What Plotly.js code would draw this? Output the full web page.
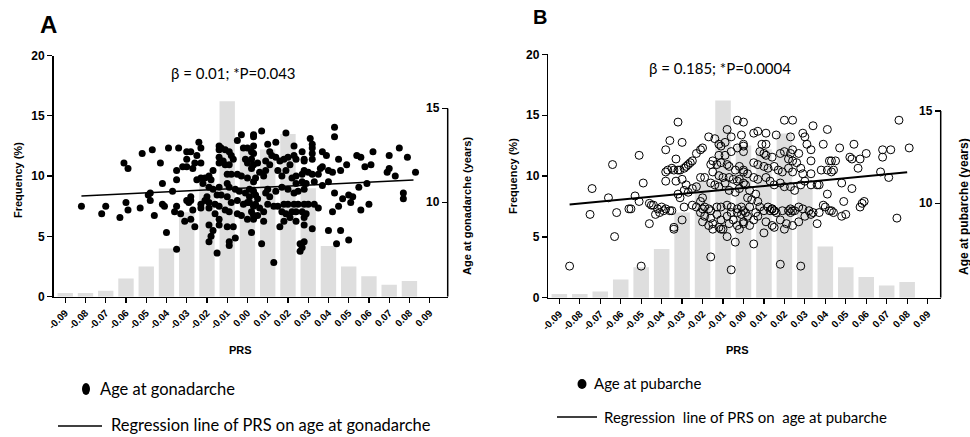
<!DOCTYPE html>
<html><head><meta charset="utf-8">
<script src="https://cdn.plot.ly/plotly-3.0.1.min.js"></script>
<style>html,body{margin:0;padding:0;background:#fff}#chart{width:970px;height:437px}</style>
</head><body><div id="chart"></div>
<script>
// ---------------- DATA ----------------
const binCenters = [-0.09,-0.08,-0.07,-0.06,-0.05,-0.04,-0.03,-0.02,-0.01,0.00,0.01,0.02,0.03,0.04,0.05,0.06,0.07,0.08];
const frequency  = [0.3,0.3,0.5,1.5,2.5,4.0,7.0,9.5,16.2,12.5,12.2,13.5,9.0,4.2,2.5,1.7,1.0,1.3];
const tickVals   = [-0.09,-0.08,-0.07,-0.06,-0.05,-0.04,-0.03,-0.02,-0.01,0,0.01,0.02,0.03,0.04,0.05,0.06,0.07,0.08,0.09];
const tickLabels = ["-0.09","-0.08","-0.07","-0.06","-0.05","-0.04","-0.03","-0.02","-0.01","0.00","0.01","0.02","0.03","0.04","0.05","0.06","0.07","0.08","0.09"];
const freqTicks  = [0,5,10,15,20];
const ageTicks   = [10,15];

// Regression line end points [PRS, age]
const regLineA = [[-0.082,10.34],[0.082,11.19]];
const regLineB = [[-0.085,9.93],[0.080,11.68]];

// Panel A: PRS vs age at gonadarche [PRS, age]
const gonadarche = [
[-0.082,9.8],[-0.070,9.8],[-0.072,9.4],[-0.063,9.2],[-0.061,12.1],[-0.059,11.8],[-0.060,10.0],[-0.059,9.6],
[-0.053,9.7],[-0.052,12.6],[-0.047,12.8],[-0.043,12.1],[-0.042,11.0],[-0.049,10.4],[-0.048,10.5],[-0.048,10.1],
[-0.046,9.3],[-0.042,9.9],[-0.041,9.8],
[-0.039,12.9],[-0.034,12.9],[-0.024,13.2],[-0.023,12.9],[-0.030,12.7],[-0.028,12.7],[-0.025,12.5],[-0.030,12.3],
[-0.026,12.1],[-0.023,12.1],[-0.032,11.9],[-0.030,11.9],[-0.027,11.8],[-0.035,11.7],[-0.035,11.2],[-0.037,10.6],
[-0.035,9.8],[-0.036,9.5],[-0.033,9.4],[-0.031,9.0],[-0.028,9.1],[-0.027,9.6],[-0.030,10.1],[-0.028,10.1],
[-0.029,10.0],[-0.028,10.3],[-0.026,8.7],[-0.040,8.4],[-0.035,7.5],[-0.025,11.2],[-0.023,11.3],[-0.021,11.3],
[-0.019,11.4],[-0.017,11.7],[-0.018,11.2],[-0.022,11.0],[-0.019,10.8],[-0.017,10.7],[-0.015,10.4],[-0.014,10.8],
[-0.014,13.0],[-0.014,12.8],[-0.013,12.9],[-0.011,12.8],[-0.009,12.7],[-0.008,12.5],[-0.014,12.4],[-0.012,12.2],
[-0.014,12.1],[-0.011,12.0],[-0.009,12.0],[-0.007,12.3],[-0.005,13.3],[-0.003,13.6],[-0.002,12.9],[0.000,12.9],
[0.003,13.6],[0.002,12.7],[-0.001,12.3],[0.000,12.1],[0.003,12.0],[-0.010,11.5],[-0.008,11.5],[-0.005,11.5],
[-0.003,11.4],[0.000,11.3],[0.003,11.1],[-0.010,11.0],[-0.009,10.8],[-0.006,10.7],[-0.004,10.6],[-0.001,10.5],
[0.001,10.7],[-0.013,10.4],[-0.010,10.3],[-0.008,10.0],[-0.005,10.1],[-0.002,9.9],[0.000,10.0],[0.003,9.8],
[-0.019,10.0],[-0.016,9.9],[-0.014,9.8],[-0.011,9.6],[-0.009,9.5],[-0.005,9.4],[-0.003,9.3],[0.000,9.1],
[0.003,9.3],[-0.019,9.7],[-0.016,9.4],[-0.014,9.1],[-0.019,8.8],[-0.017,8.5],[-0.014,8.8],[-0.010,8.7],
[-0.007,8.7],[-0.018,8.2],[-0.019,7.9],[-0.009,7.9],[-0.009,7.7],[-0.006,8.1],[0.002,8.4],[-0.015,7.3],
[-0.023,9.9],[-0.023,9.7],[-0.021,10.1],[-0.020,10.3],[0.001,10.3],[0.004,10.4],
[0.003,13.5],[0.007,13.8],[0.003,13.0],[0.003,12.6],[0.002,12.3],[0.005,12.1],[0.002,11.8],[0.006,11.6],
[0.008,11.4],[0.004,11.3],[0.010,13.1],[0.014,13.2],[0.011,12.7],[0.012,12.5],[0.009,12.2],[0.009,11.7],
[0.011,12.0],[0.014,12.4],[0.016,12.2],[0.018,12.3],[0.020,12.4],[0.021,12.0],[0.019,11.7],[0.015,11.7],
[0.017,11.4],[0.019,13.7],[0.023,13.0],[0.023,12.5],[0.024,12.3],[0.027,12.7],[0.028,12.3],[0.031,13.4],
[0.032,13.1],[0.032,12.9],[0.032,12.6],[0.032,12.3],[0.028,12.2],[0.028,11.7],[0.030,11.6],[0.032,11.5],
[0.027,11.5],[0.024,11.4],[0.022,11.3],[0.037,12.7],[0.039,12.5],[0.045,12.3],[0.043,14.0],[0.043,13.5],
[0.036,11.8],[0.037,11.9],[0.040,11.7],[0.042,11.6],[0.046,11.7],[0.035,11.5],[0.033,11.1],[0.029,11.0],
[0.027,11.1],[0.024,11.0],[0.028,10.7],[0.025,10.6],[0.023,10.5],[0.020,10.7],[0.017,10.8],[0.014,10.6],
[0.010,10.7],[0.009,10.5],[0.011,10.3],[0.005,10.2],[0.003,10.6],[0.001,10.0],[0.004,9.9],[0.006,9.7],
[0.008,9.5],[0.002,9.5],[0.003,9.1],[0.008,9.0],[0.005,9.3],[0.010,9.9],[0.013,9.8],[0.015,9.8],
[0.018,9.9],[0.020,9.9],[0.023,9.9],[0.025,9.9],[0.028,9.9],[0.030,9.9],[0.033,9.9],[0.035,9.7],
[0.017,9.5],[0.019,9.4],[0.022,9.5],[0.024,9.5],[0.027,9.5],[0.029,9.4],[0.021,9.2],[0.024,9.0],
[0.028,9.2],[0.028,8.8],[0.018,9.0],[0.016,8.7],[0.007,7.8],[0.013,6.8],[0.026,7.8],[0.027,7.6],
[0.026,7.4],[0.028,7.9],[0.032,8.6],[0.040,8.5],[0.042,9.5],[0.043,10.5],[0.045,9.8],[0.046,8.5],
[0.044,7.8],[0.047,10.2],[0.037,10.9],[0.040,11.1],
[0.049,12.0],[0.054,12.5],[0.056,12.4],[0.062,12.7],[0.061,12.0],[0.058,11.9],[0.070,12.5],[0.075,12.9],
[0.079,12.4],[0.070,11.8],[0.069,11.6],[0.073,11.4],[0.083,11.6],[0.059,11.0],[0.055,10.8],[0.050,10.4],
[0.052,10.3],[0.051,10.0],[0.060,9.9],[0.056,9.6],[0.050,8.0],[0.077,10.5],[0.077,10.2]
];

// Panel B: PRS vs age at pubarche [PRS, age]
const pubarche = [
[-0.085,6.6],[-0.064,12.1],[-0.051,12.6],[-0.049,11.1],[-0.074,10.8],[-0.066,10.3],[-0.053,10.4],[-0.051,10.1],
[-0.075,9.4],[-0.062,9.5],[-0.056,9.7],[-0.055,9.7],[-0.063,8.2],[-0.050,6.6],[-0.046,10.0],[-0.045,9.9],[-0.046,8.9],
[-0.032,14.4],[-0.036,13.4],[-0.030,13.3],[-0.038,12.9],[-0.033,12.4],[-0.038,11.7],[-0.037,11.8],[-0.038,11.2],
[-0.035,11.9],[-0.034,11.8],[-0.032,11.8],[-0.031,11.8],[-0.029,11.9],[-0.028,12.0],[-0.027,12.1],[-0.026,12.2],
[-0.025,12.3],[-0.023,12.7],[-0.021,12.9],[-0.020,13.0],[-0.017,13.6],[-0.014,13.5],[-0.012,13.2],[-0.011,13.1],
[-0.009,13.3],[-0.008,14.0],[-0.006,13.6],[-0.003,14.5],[-0.001,13.7],[0.000,13.2],[-0.003,13.0],[-0.006,12.8],
[-0.009,12.6],[-0.012,12.6],[-0.015,12.3],[-0.016,12.1],[-0.013,12.1],[-0.011,12.2],[-0.008,12.1],[-0.007,12.0],
[-0.004,11.8],[-0.002,12.0],[0.000,11.7],[-0.015,11.7],[-0.012,11.5],[-0.010,11.4],[-0.007,11.4],[-0.005,11.3],
[-0.003,11.2],[0.000,11.1],[-0.021,11.4],[-0.019,11.4],[-0.016,11.1],[-0.014,11.0],[-0.012,10.9],[-0.009,11.1],
[-0.007,10.7],[-0.004,10.6],[-0.002,10.8],[-0.033,11.2],[-0.030,11.3],[-0.028,11.0],[-0.025,10.8],[-0.023,10.9],
[-0.029,10.7],[-0.032,10.5],[-0.031,10.3],[-0.027,10.6],[-0.044,9.9],[-0.042,9.7],[-0.040,9.8],[-0.038,9.7],
[-0.036,9.6],[-0.035,9.6],[-0.043,9.4],[-0.041,9.5],[-0.039,9.6],[-0.034,8.7],[-0.034,8.6],[-0.030,9.1],
[-0.029,9.8],[-0.025,9.9],[-0.023,9.8],[-0.021,10.1],[-0.020,10.3],[-0.019,9.8],[-0.017,9.7],[-0.016,9.6],
[-0.013,9.8],[-0.011,9.8],[-0.008,9.9],[-0.006,9.8],[-0.003,9.7],[-0.001,9.8],[-0.021,9.5],[-0.019,9.3],
[-0.016,9.2],[-0.013,9.4],[-0.011,9.1],[-0.008,9.3],[-0.006,9.5],[-0.003,9.5],[-0.001,9.4],[-0.020,9.0],
[-0.017,8.8],[-0.015,8.9],[-0.012,8.7],[-0.010,8.6],[-0.007,8.9],[-0.005,9.1],[-0.003,8.8],[0.000,8.9],
[-0.020,9.7],[-0.015,8.6],[-0.011,8.6],[-0.008,8.2],[-0.004,7.9],[-0.016,7.1],[-0.006,6.4],
[0.000,14.4],[0.020,14.5],[0.024,14.5],[0.034,14.2],[0.041,14.0],[0.005,13.8],[0.007,13.9],[0.011,13.8],
[0.016,13.7],[0.023,13.6],[0.029,13.8],[0.030,13.6],[0.031,13.2],[0.033,12.9],[0.039,13.2],[0.033,12.3],
[0.042,12.3],[0.045,12.3],[0.000,13.1],[0.000,12.8],[0.009,13.2],[0.011,13.2],[0.008,12.8],[0.010,12.7],
[0.011,12.6],[0.014,12.5],[0.018,12.7],[0.020,12.8],[0.023,12.7],[0.024,12.9],[0.027,12.7],[0.022,12.4],
[0.024,12.3],[0.026,12.2],[0.028,11.9],[0.029,11.6],[0.033,11.6],[0.038,11.8],[0.041,11.8],[0.043,11.7],
[0.005,12.2],[0.007,12.1],[0.010,12.0],[0.012,11.9],[0.015,12.0],[0.017,11.8],[0.019,11.7],[0.022,11.9],
[0.024,11.7],[0.000,11.8],[0.002,11.6],[0.005,11.4],[0.007,11.3],[0.011,11.4],[0.013,11.2],[0.015,11.0],
[0.018,11.1],[0.020,10.9],[0.023,10.9],[0.025,10.7],[0.028,11.0],[0.030,11.2],[0.033,11.0],[0.036,11.0],
[0.037,11.0],[0.041,10.5],[-0.002,11.3],[0.001,11.0],[0.003,10.7],[0.006,10.5],[0.002,10.3],[0.004,10.2],
[0.007,10.1],[0.008,9.8],[0.010,9.6],[0.012,9.8],[0.014,9.7],[0.015,9.6],[0.016,9.5],[0.019,9.6],
[0.023,9.7],[0.025,9.6],[0.027,9.8],[0.029,9.7],[0.032,9.6],[0.034,9.5],[0.037,9.5],[0.039,9.9],
[0.040,9.8],[0.042,9.6],[0.000,9.6],[0.001,9.5],[0.002,9.3],[0.005,9.1],[0.000,9.0],[0.003,8.8],
[-0.002,8.6],[0.007,9.3],[0.011,9.0],[0.014,8.8],[0.018,9.1],[0.021,8.9],[0.024,8.8],[0.027,9.0],
[0.030,9.3],[0.033,9.4],[0.036,8.9],[0.020,8.6],[0.015,8.7],[0.010,8.4],[0.005,7.8],[0.018,6.7],
[0.028,6.6],[0.003,9.8],[0.006,9.5],[0.013,9.6],[0.014,9.7],[0.015,9.6],[0.024,9.6],[0.023,9.5],[0.022,9.6],
[0.076,14.5],[0.047,13.0],[0.054,13.2],[0.052,12.5],[0.053,12.4],[0.057,12.4],[0.060,12.7],[0.056,11.9],
[0.068,12.9],[0.072,12.9],[0.068,12.5],[0.081,13.0],[0.067,11.7],[0.071,11.4],[0.048,11.1],[0.053,10.8],
[0.043,12.3],[0.044,11.8],[0.049,10.1],[0.059,10.1],[0.058,10.0],[0.057,9.8],[0.048,9.3],[0.050,9.4],
[0.043,9.6],[0.044,9.5],[0.075,9.2]
];

// ---------------- LAYOUT HELPERS ----------------
const W = 970, H = 437;
const px = x => x / W;
const py = y => 1 - y / H;
const BLACK = '#000';
const ARIAL = 'Arial, "Liberation Sans", sans-serif';
const SANS = 'Lato, "Open Sans", sans-serif';

function xAxis(domain, range, anchor) {
  return {domain, range, anchor, tickmode:'array', tickvals:tickVals, ticktext:tickLabels,
    tickangle:-45, ticks:'outside', ticklen:5, tickwidth:1.3, tickcolor:BLACK,
    ticklabeloverflow:'allow', automargin:false,
    showline:true, linewidth:1.5, linecolor:BLACK, showgrid:false, zeroline:false,
    tickfont:{family:ARIAL, size:10, color:BLACK, weight:'bold'}};
}
function yFreq(domain, anchor) {
  return {domain, range:[0,20], anchor, tickmode:'array', tickvals:freqTicks,
    ticks:'outside', ticklen:5, tickwidth:1.3, tickcolor:BLACK,
    showline:true, linewidth:1.5, linecolor:BLACK, showgrid:false, zeroline:false,
    tickfont:{family:ARIAL, size:12, color:BLACK, weight:'bold'}};
}
function yAge(overlay, anchor, range) {
  return {overlaying:overlay, anchor, side:'right', range, tickmode:'array', tickvals:ageTicks,
    ticks:'inside', ticklen:6, tickwidth:1.3, tickcolor:BLACK, showticklabels:false,
    showline:false, showgrid:false, zeroline:false};
}

const rangeAgeA = [4.98, 17.82];
const rangeAgeB = [4.89, 18.07];

const traces = [
  {type:'bar', x:binCenters, y:frequency, width:0.0076, xaxis:'x', yaxis:'y',
   marker:{color:'#dedede', line:{width:0}}, hoverinfo:'skip'},
  {type:'scatter', mode:'markers', x:gonadarche.map(p=>p[0]), y:gonadarche.map(p=>p[1]),
   xaxis:'x', yaxis:'y2', marker:{symbol:'circle', size:7, color:BLACK}, hoverinfo:'skip'},
  {type:'scatter', mode:'lines', x:regLineA.map(p=>p[0]), y:regLineA.map(p=>p[1]),
   xaxis:'x', yaxis:'y2', line:{color:BLACK, width:1.5}, hoverinfo:'skip'},
  {type:'bar', x:binCenters, y:frequency, width:0.0076, xaxis:'x2', yaxis:'y3',
   marker:{color:'#dedede', line:{width:0}}, hoverinfo:'skip'},
  {type:'scatter', mode:'markers', x:pubarche.map(p=>p[0]), y:pubarche.map(p=>p[1]),
   xaxis:'x2', yaxis:'y4', marker:{symbol:'circle-open', size:8, color:BLACK, line:{width:1}}, hoverinfo:'skip'},
  {type:'scatter', mode:'lines', x:regLineB.map(p=>p[0]), y:regLineB.map(p=>p[1]),
   xaxis:'x2', yaxis:'y4', line:{color:BLACK, width:2}, hoverinfo:'skip'}
];

function ann(text, x, y, size, opts) {
  return Object.assign({text, x:px(x), y:py(y), xref:'paper', yref:'paper', showarrow:false,
    xanchor:'center', yanchor:'middle', font:{family:ARIAL, size, color:BLACK}}, opts||{});
}

// right-axis tick labels (inside the plot, left of the axis line)
const ageTickAnns = [];
ageTicks.forEach(v => {
  ageTickAnns.push({text:String(v), x:px(441.5), xref:'paper', y:v, yref:'y2', xanchor:'right', yanchor:'middle',
    showarrow:false, font:{family:ARIAL, size:12, color:BLACK, weight:'bold'}});
  ageTickAnns.push({text:String(v), x:px(934.5), xref:'paper', y:v, yref:'y4', xanchor:'right', yanchor:'middle',
    showarrow:false, font:{family:ARIAL, size:12, color:BLACK, weight:'bold'}});
});

const annotations = [
  ann('A', 48, 24, 24, {font:{family:ARIAL, size:24, color:BLACK, weight:'bold'}}),
  ann('B', 540, 17, 20, {font:{family:ARIAL, size:20, color:BLACK, weight:'bold'}}),
  ann('β = 0.01; *P=0.043', 233, 73, 15, {font:{family:SANS, size:15, color:BLACK}}),
  ann('β = 0.185; *P=0.0004', 720, 68, 15, {font:{family:SANS, size:15, color:BLACK}}),
  ann('PRS', 240, 350, 11, {font:{family:ARIAL, size:11, color:BLACK, weight:'bold'}}),
  ann('PRS', 737, 350, 11, {font:{family:ARIAL, size:11, color:BLACK, weight:'bold'}}),
  ann('Frequency (%)', 18, 180, 11, {textangle:-90, font:{family:ARIAL, size:11, color:BLACK, weight:'bold'}}),
  ann('Frequency (%)', 513, 176, 11, {textangle:-90, font:{family:ARIAL, size:11, color:BLACK, weight:'bold'}}),
  ann('Age at gonadarche (years)', 467, 206, 11, {textangle:-90, font:{family:ARIAL, size:11, color:BLACK, weight:'bold'}}),
  ann('Age at pubarche (years)', 964, 207, 12, {textangle:-90, font:{family:ARIAL, size:12, color:BLACK, weight:'bold'}}),
  ann('Age at gonadarche', 98, 389, 16.5, {xanchor:'left', font:{family:SANS, size:16.5, color:BLACK}}),
  ann('Regression line of PRS on age at gonadarche', 109, 425, 16.5, {xanchor:'left', font:{family:SANS, size:16.5, color:BLACK}}),
  ann('Age at pubarche', 592, 383, 15, {xanchor:'left', font:{family:SANS, size:15, color:BLACK}}),
  ann('Regression&nbsp; line of PRS on&nbsp; age at pubarche', 602, 417, 15, {xanchor:'left', font:{family:SANS, size:15, color:BLACK}})
].concat(ageTickAnns);

const shapes = [
  {type:'line', xref:'paper', yref:'y2', x0:px(447.7), x1:px(447.7), y0:rangeAgeA[0], y1:15, line:{color:BLACK, width:1.5}},
  {type:'line', xref:'paper', yref:'y4', x0:px(940.7), x1:px(940.7), y0:rangeAgeB[0], y1:15, line:{color:BLACK, width:1.5}},
  {type:'circle', xref:'paper', yref:'paper', x0:px(82), x1:px(90), y0:py(395), y1:py(383), fillcolor:BLACK, line:{width:0}},
  {type:'line', xref:'paper', yref:'paper', x0:px(58), x1:px(102), y0:py(426), y1:py(426), line:{color:BLACK, width:1.5}},
  {type:'circle', xref:'paper', yref:'paper', x0:px(577.5), x1:px(586.5), y0:py(389), y1:py(379), fillcolor:BLACK, line:{width:0}},
  {type:'line', xref:'paper', yref:'paper', x0:px(557), x1:px(597), y0:py(417), y1:py(417), line:{color:BLACK, width:1.5}}
];

const layout = {
  width:W, height:H, margin:{l:0, r:0, t:0, b:0}, paper_bgcolor:'#fff', plot_bgcolor:'rgba(0,0,0,0)',
  showlegend:false, barmode:'overlay',
  xaxis: xAxis([px(53.5), px(447.7)], [-0.0958, 0.0989], 'y'),
  yaxis: yFreq([py(296.7), py(55.5)], 'x'),
  yaxis2: yAge('y', 'x', rangeAgeA),
  xaxis2: xAxis([px(548.3), px(940.7)], [-0.0954, 0.0964], 'y3'),
  yaxis3: yFreq([py(297.7), py(54.3)], 'x2'),
  yaxis4: yAge('y3', 'x2', rangeAgeB),
  annotations, shapes
};

Plotly.newPlot('chart', traces, layout, {staticPlot:true, displayModeBar:false});
</script>
</body></html>
